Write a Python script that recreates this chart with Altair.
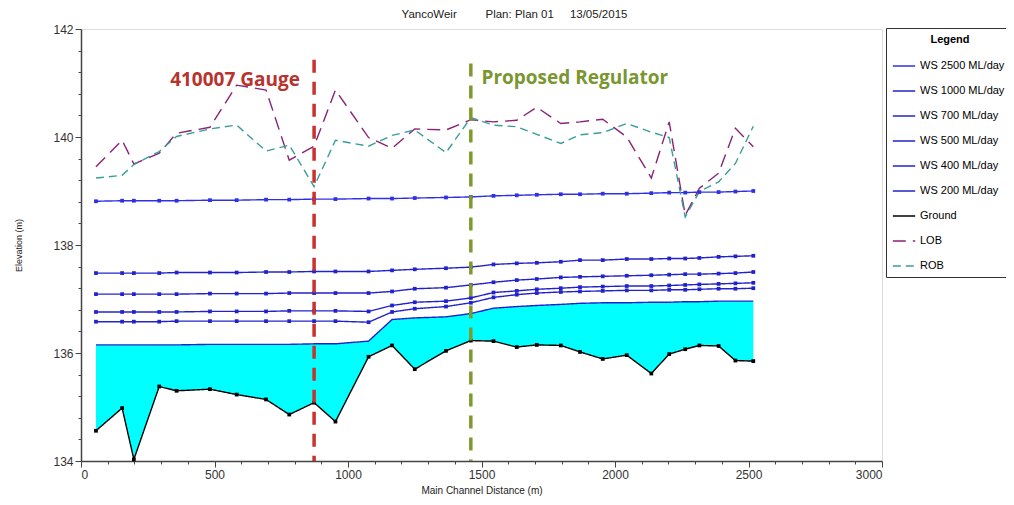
import altair as alt
import pandas as pd

stations = [56, 154, 198, 293, 358, 483, 583, 693, 780, 873, 953, 1077, 1165, 1250, 1367,
            1460, 1545, 1632, 1707, 1797, 1869, 1954, 2044, 2136, 2203, 2263, 2316, 2388, 2451, 2518]

ground = [134.56, 134.98, 134.03, 135.38, 135.30, 135.33, 135.23, 135.14, 134.86, 135.08,
          134.73, 135.93, 136.14, 135.70, 136.04, 136.23, 136.22, 136.11, 136.15, 136.14,
          136.02, 135.89, 135.96, 135.62, 135.98, 136.07, 136.14, 136.13, 135.86, 135.85]
ws200 = [136.15, 136.15, 136.15, 136.15, 136.15, 136.16, 136.16, 136.16, 136.16, 136.17,
         136.17, 136.22, 136.62, 136.65, 136.67, 136.73, 136.83, 136.86, 136.88, 136.90,
         136.92, 136.93, 136.93, 136.94, 136.94, 136.95, 136.95, 136.96, 136.96, 136.96]
ws400 = [136.58, 136.58, 136.58, 136.58, 136.59, 136.59, 136.59, 136.59, 136.59, 136.59,
         136.59, 136.57, 136.76, 136.82, 136.86, 136.93, 137.03, 137.08, 137.11, 137.13,
         137.14, 137.15, 137.16, 137.16, 137.17, 137.17, 137.18, 137.19, 137.19, 137.20]
ws500 = [136.76, 136.76, 136.76, 136.76, 136.76, 136.77, 136.77, 136.77, 136.78, 136.78,
         136.78, 136.77, 136.88, 136.94, 136.96, 137.02, 137.12, 137.15, 137.18, 137.20,
         137.22, 137.23, 137.24, 137.24, 137.25, 137.26, 137.27, 137.28, 137.29, 137.30]
ws700 = [137.09, 137.09, 137.09, 137.09, 137.09, 137.10, 137.10, 137.10, 137.11, 137.11,
         137.11, 137.11, 137.14, 137.19, 137.21, 137.26, 137.31, 137.35, 137.37, 137.40,
         137.41, 137.42, 137.43, 137.44, 137.45, 137.46, 137.46, 137.47, 137.48, 137.50]
ws1000 = [137.48, 137.48, 137.48, 137.48, 137.49, 137.49, 137.49, 137.50, 137.50, 137.51,
          137.51, 137.51, 137.53, 137.55, 137.57, 137.59, 137.64, 137.66, 137.67, 137.69,
          137.72, 137.72, 137.74, 137.74, 137.75, 137.75, 137.76, 137.78, 137.79, 137.80]
ws2500 = [138.81, 138.82, 138.82, 138.82, 138.82, 138.83, 138.83, 138.84, 138.84, 138.85,
          138.85, 138.86, 138.86, 138.87, 138.88, 138.89, 138.91, 138.92, 138.93, 138.94,
          138.94, 138.95, 138.95, 138.96, 138.97, 138.97, 138.98, 138.98, 138.99, 139.00]
lob = [139.45, 139.94, 139.50, 139.70, 140.07, 140.18, 140.96, 140.87, 139.57, 139.83,
       140.87, 139.99, 139.79, 140.15, 140.13, 140.32, 140.28, 140.31, 140.55, 140.25,
       140.28, 140.33, 140.00, 139.24, 140.28, 138.55, 139.05, 139.33, 140.16, 139.82]
rob = [139.24, 139.29, 139.49, 139.73, 140.01, 140.15, 140.22, 139.74, 139.85, 139.08,
       139.94, 139.83, 140.03, 140.13, 139.71, 140.36, 140.22, 140.19, 140.05, 139.88,
       140.04, 140.08, 140.25, 140.09, 139.99, 138.52, 138.99, 139.17, 139.51, 140.20]

series_names = ["WS  2500 ML/day", "WS  1000 ML/day", "WS  700 ML/day", "WS  500 ML/day",
                "WS  400 ML/day", "WS  200 ML/day", "Ground", "LOB", "ROB"]
series_values = [ws2500, ws1000, ws700, ws500, ws400, ws200, ground, lob, rob]
series_colors = ["#2f2fe6", "#2222cc", "#2222cc", "#2222cc", "#2222cc", "#2222cc",
                 "#000000", "#8a2277", "#3a9e98"]
series_dashes = [[1, 0]] * 7 + [[13, 7], [8, 5]]
marker_series = ["WS  2500 ML/day", "WS  1000 ML/day", "WS  700 ML/day", "WS  500 ML/day",
                 "WS  400 ML/day", "Ground"]

markers_x = [873, 1460]
markers_top = [141.43, 141.36]
markers_bottom = [134, 134]
marker_labels = ["410007 Gauge", "Proposed Regulator"]
label_x = [820, 1500]
label_y = [141.06, 141.09]

x_ticks = list(range(0, 3001, 100))
y_ticks = [134, 134.4, 134.8, 135.2, 135.6, 136, 136.4, 136.8, 137.2, 137.6, 138,
           138.4, 138.8, 139.2, 139.6, 140, 140.4, 140.8, 141.2, 141.6, 142]

rows = []
for name, vals in zip(series_names, series_values):
    for s, v in zip(stations, vals):
        rows.append({"dist": s, "elev": v, "series": name})
long_df = pd.DataFrame(rows)
fill_df = pd.DataFrame({"dist": stations, "ground": ground, "ws200": ws200})
rule_df = pd.DataFrame({"x": markers_x, "top": markers_top, "bottom": markers_bottom,
                        "name": marker_labels})
text_df = pd.DataFrame({"x": label_x, "y": label_y, "t": marker_labels})

axis_font = "Liberation Sans Narrow, Liberation Sans, Arial"
x_major_test = "datum.value % 500 === 0"
y_major_test = "datum.value % 2 === 0"

xscale = alt.Scale(domain=[0, 3000], nice=False, zero=False)
yscale = alt.Scale(domain=[134, 142], nice=False, zero=False)

xaxis = alt.Axis(title="Main Channel Distance (m)", values=x_ticks, grid=False,
                 labelExpr=x_major_test + " ? datum.label : ''",
                 labelOverlap=False, labelFont=axis_font, labelFontSize=12,
                 labelColor="#333333", titleFont="Liberation Sans", titleFontSize=10,
                 titleFontWeight="normal", titleColor="#222222", titlePadding=5,
                 tickSize={"condition": {"test": x_major_test, "value": 6}, "value": 3},
                 tickColor="#444444", domainColor="#444444", domainWidth=1.5,
                 labelPadding=2, format="d")
yaxis = alt.Axis(title="Elevation (m)", values=y_ticks, grid=False,
                 labelExpr=y_major_test + " ? format(datum.value, 'd') : ''",
                 labelOverlap=False, labelFont=axis_font, labelFontSize=12,
                 labelColor="#333333", titleFont="Liberation Sans", titleFontSize=9,
                 titleFontWeight="normal", titleColor="#222222", titlePadding=29,
                 tickSize={"condition": {"test": y_major_test, "value": 6}, "value": 3},
                 tickColor="#444444", domainColor="#444444", domainWidth=1.5,
                 labelPadding=2)


def X(field):
    return alt.X(field, scale=xscale, axis=xaxis)


def Y(field):
    return alt.Y(field, scale=yscale, axis=yaxis)


area = alt.Chart(fill_df).mark_area(color="#00FFFF", opacity=1).encode(
    x=X("dist:Q"), y=Y("ground:Q"), y2="ws200:Q",
)

lines = alt.Chart(long_df).mark_line(strokeWidth=1.4).encode(
    x=X("dist:Q"),
    y=Y("elev:Q"),
    color=alt.Color("series:N", scale=alt.Scale(domain=series_names, range=series_colors),
                    sort=series_names,
                    legend=alt.Legend(title="Legend", orient="none", legendX=805, legendY=-1,
                                      symbolType="stroke", symbolSize=500, symbolStrokeWidth=1.5,
                                      labelFont="Liberation Sans", labelFontSize=11,
                                      labelColor="#000000", labelLimit=200,
                                      titleFont="Liberation Sans", titleFontSize=11,
                                      titleFontWeight="bold", titleColor="#000000",
                                      titleAnchor="middle", titlePadding=9,
                                      strokeColor="#333333", fillColor="white",
                                      padding=6, rowPadding=8)),
    strokeDash=alt.StrokeDash("series:N", scale=alt.Scale(domain=series_names, range=series_dashes),
                              sort=series_names, legend=None),
    order=alt.Order("dist:Q"),
)

points = alt.Chart(long_df).transform_filter(
    alt.FieldOneOfPredicate(field="series", oneOf=marker_series)
).mark_point(shape="square", filled=True, size=14, opacity=1).encode(
    x=X("dist:Q"),
    y=Y("elev:Q"),
    color=alt.Color("series:N", scale=alt.Scale(domain=series_names, range=series_colors),
                    legend=None),
)

gauge_rule = alt.Chart(rule_df).transform_filter(alt.datum.name == "410007 Gauge").mark_rule(
    color="#c8312c", strokeWidth=3.5, strokeDash=[13, 9]).encode(
    x=X("x:Q"), y=Y("top:Q"), y2="bottom:Q")
reg_rule = alt.Chart(rule_df).transform_filter(alt.datum.name == "Proposed Regulator").mark_rule(
    color="#7f9a2c", strokeWidth=3.5, strokeDash=[13, 9]).encode(
    x=X("x:Q"), y=Y("top:Q"), y2="bottom:Q")

gauge_text = alt.Chart(text_df).transform_filter(alt.datum.t == "410007 Gauge").mark_text(
    align="right", baseline="middle", font="Open Sans", fontWeight="bold", fontSize=19,
    color="#b8332d").encode(
    x=X("x:Q"), y=Y("y:Q"), text="t:N")
reg_text = alt.Chart(text_df).transform_filter(alt.datum.t == "Proposed Regulator").mark_text(
    align="left", baseline="middle", font="Open Sans", fontWeight="bold", fontSize=19,
    color="#7a9630").encode(
    x=X("x:Q"), y=Y("y:Q"), text="t:N")

nb = "\u00a0"
title_text = "YancoWeir" + nb * 9 + "Plan: Plan 01" + nb * 5 + "13/05/2015"

chart = alt.layer(area, lines, points, gauge_rule, reg_rule, gauge_text, reg_text).properties(
    width=801, height=432,
    padding={"left": 73, "top": 21, "right": 124, "bottom": 36},
    autosize=alt.AutoSizeParams(type="none"),
    title=alt.TitleParams(title_text, font="Liberation Sans", fontSize=11.5,
                          fontWeight="normal", color="#222222", anchor="middle",
                          dx=33, offset=3),
).configure_view(stroke=None).configure_axis(labelOverlap=False).configure(background="white")

chart.save("out.html", embed_options={"renderer": "svg", "actions": False})
